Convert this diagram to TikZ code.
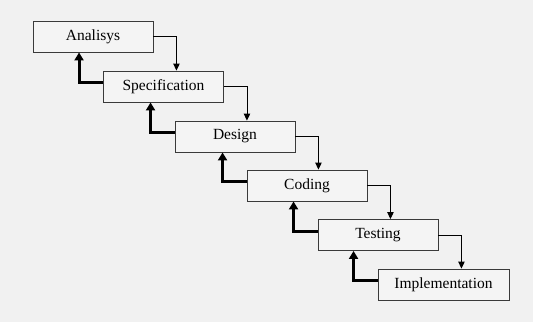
\documentclass[tikz,border=0pt]{standalone}
\usepackage{fontspec}
\setmainfont{Liberation Serif}
\usetikzlibrary{arrows.meta}
\definecolor{bg}{HTML}{F1F1F1}
\definecolor{boxfill}{HTML}{F4F4F4}
\definecolor{boxline}{HTML}{3A3A3A}
\tikzset{
  stage/.style={draw=boxline, line width=0.9pt, fill=boxfill, minimum width=120pt, minimum height=31pt, inner sep=0pt, font=\fontsize{15.5}{18}\selectfont},
  fwd/.style={draw=black, line width=0.9pt, -{Triangle[length=7pt,width=6.5pt]}},
  back/.style={draw=black, line width=3pt, -{Triangle[length=8pt,width=9pt]}}
}
\begin{document}
\begin{tikzpicture}[x=1pt,y=-1pt]
\useasboundingbox[fill=bg] (0,0) rectangle (533,322);
\node[stage] (a) at (93,36.5) {Analisys};
\node[stage] (s) at (163.5,86.5) {Specification};
\node[stage] (d) at (235,136.5) {Design};
\node[stage] (c) at (307,185.5) {Coding};
\node[stage] (t) at (378,235) {Testing};
\node[stage, minimum width=131pt] (i) at (443.5,284.5) {Implementation};
\foreach \p/\q in {a/s,s/d,d/c,c/t,t/i}{
  \draw[fwd] (\p.east) -| ([xshift=23pt]\p.east |- \q.north);
  \draw[back] ([yshift=4pt]\q.west) -| ([xshift=-24pt]\q.west |- \p.south);
}
\end{tikzpicture}
\end{document}
